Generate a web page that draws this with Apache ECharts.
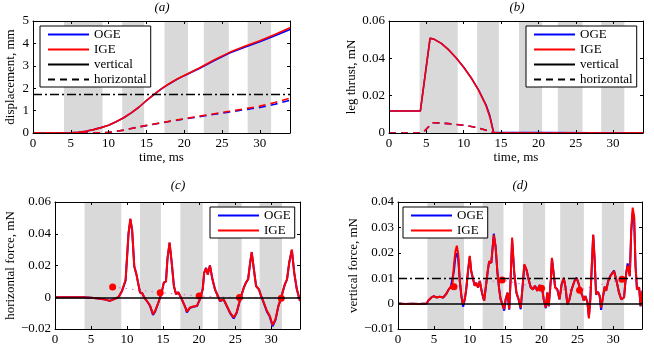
<!DOCTYPE html>
<html>
<head>
<meta charset="utf-8">
<script src="https://cdn.jsdelivr.net/npm/echarts@6/dist/echarts.min.js"></script>
<style>
html, body { margin: 0; padding: 0; background: #fff; }
#charts { width: 654px; height: 346px; }
</style>
</head>
<body>
<div id="charts"></div>
<script>
// stroke (grey) intervals, ms
var strokeBands = [[4.1, 9.2], [11.8, 14.7], [17.4, 20.5], [22.6, 25.9], [28.4, 31.5]];

// (a) displacement, mm
var aVertTime = [0, 4, 5, 6, 7, 8, 9, 10, 11, 12, 13, 14, 15, 16, 17, 18, 19, 20, 22, 24, 26, 28, 30, 32, 34];
var aVertIGE = [0, 0, 0.005, 0.03, 0.08, 0.15, 0.24, 0.35, 0.5, 0.68, 0.9, 1.15, 1.45, 1.72, 1.98, 2.2, 2.4, 2.57, 2.9, 3.27, 3.6, 3.87, 4.12, 4.4, 4.7];
var aVertOGE = [0, 0, 0.005, 0.03, 0.08, 0.15, 0.24, 0.35, 0.5, 0.68, 0.9, 1.15, 1.44, 1.71, 1.97, 2.19, 2.39, 2.56, 2.88, 3.24, 3.57, 3.83, 4.07, 4.34, 4.62];
var aHorTime = [0, 8, 9, 10, 11, 12, 13, 14, 15, 16, 18, 20, 22, 24, 26, 28, 30, 32, 34];
var aHorIGE = [0, 0, 0.01, 0.03, 0.07, 0.13, 0.2, 0.27, 0.34, 0.4, 0.52, 0.64, 0.75, 0.86, 0.97, 1.08, 1.2, 1.36, 1.56];
var aHorOGE = [0, 0, 0.01, 0.03, 0.07, 0.13, 0.2, 0.27, 0.33, 0.39, 0.51, 0.62, 0.73, 0.84, 0.94, 1.04, 1.14, 1.28, 1.46];
var aLevel = 1.73;

// (b) leg thrust, mN
var bVertTime = [0, 4.2, 5.5, 6, 7, 8, 9, 10, 11, 12, 13, 13.5, 14, 34];
var bVertIGE = [0.0118, 0.0118, 0.0508, 0.0503, 0.048, 0.0445, 0.0402, 0.0352, 0.0295, 0.0228, 0.0145, 0.0085, 0, 0];
var bVertOGE = [0.0118, 0.0118, 0.0508, 0.0503, 0.048, 0.0445, 0.0402, 0.0352, 0.0296, 0.023, 0.015, 0.0092, 0.0004, 0];
var bHorTime = [0, 4.5, 5.8, 7, 8, 9, 10, 11, 12, 13, 14, 34];
var bHorIGE = [0, 0, 0.0055, 0.0053, 0.005, 0.0046, 0.0041, 0.0035, 0.0027, 0.0015, 0, 0];
var bHorOGE = [0, 0, 0.0055, 0.0053, 0.005, 0.0046, 0.0041, 0.0035, 0.0027, 0.0015, 0, 0];

// (c) horizontal force, mN
var cTime = [0, 2, 4, 5, 6, 7, 7.6, 8.2, 8.8, 9.3, 9.8, 10.2, 10.46, 10.7, 11.0, 11.3, 11.8, 12.1, 12.4, 12.9,
  13.2, 13.6, 13.9, 14.35, 14.8, 15.1, 15.4, 15.6, 15.9, 16.2, 16.5, 16.8, 17.1, 17.6, 18.1, 18.3, 18.75, 19.2, 19.7, 20.1,
  20.5, 20.7, 20.97, 21.2, 21.5, 21.85, 22.2, 22.6, 22.9, 23.4, 23.8, 24.3, 24.8, 25.2, 25.7, 26.2, 26.5, 26.8, 27.08, 27.3,
  27.6, 27.9, 28.3, 28.6, 28.97, 29.4, 29.8, 30.2, 30.6, 31.0, 31.4, 31.7, 31.9, 32.2, 32.5, 32.87, 33.2, 33.56, 34.0];
var cIGE = [0, 0, 0, -0.0003, -0.0008, -0.0015, -0.0023, -0.0012, 0, 0.004, 0.011, 0.04, 0.0495, 0.0425, 0.0196, 0.0144, 0.003, 0.0025, -0.0002, -0.0033,
  -0.0054, -0.0106, -0.0086, -0.0033, 0.0029, 0.0092, 0.01, 0.0238, 0.0345, 0.0217, 0.0071, 0.0019, 0.0032, -0.0013, -0.0064, -0.009, -0.0064, -0.0058, -0.0054, -0.0013,
  0.005, 0.0154, 0.0185, 0.0144, 0.02, 0.0113, 0.005, 0.0008, -0.0023, -0.0013, -0.005, -0.0096, -0.0127, -0.0096, -0.0013, 0.006, 0.0092, 0.0113, 0.0217, 0.0285,
  0.0175, 0.0071, 0.005, 0.0008, -0.0033, -0.0085, -0.0117, -0.0175, -0.0138, -0.0054, -0.0002, 0.005, 0.0081, 0.0113, 0.0217, 0.03, 0.0154, 0.005, -0.0023];
var cOGE = [0, 0, 0, -0.0003, -0.0008, -0.0015, -0.0023, -0.0012, 0, 0.004, 0.0105, 0.04, 0.049, 0.0425, 0.0196, 0.0144, 0.003, 0.0025, -0.0002, -0.0033,
  -0.0056, -0.0112, -0.009, -0.0033, 0.0029, 0.0092, 0.01, 0.0238, 0.0343, 0.0217, 0.0071, 0.0019, 0.0032, -0.0013, -0.0066, -0.0096, -0.0066, -0.006, -0.0056, -0.0013,
  0.005, 0.0154, 0.0185, 0.0144, 0.02, 0.0113, 0.005, 0.0008, -0.0024, -0.0014, -0.0052, -0.01, -0.0134, -0.01, -0.0013, 0.006, 0.0092, 0.0113, 0.0217, 0.0283,
  0.0175, 0.0071, 0.005, 0.0008, -0.0035, -0.009, -0.0122, -0.0183, -0.0143, -0.0056, -0.0002, 0.005, 0.0081, 0.0113, 0.0217, 0.0298, 0.0154, 0.005, -0.0023];
var cMeanTime = [8, 14.6, 20, 25.6, 31.4];
var cMean = [0.0065, 0.0029, 0.0008, -0.0002, -0.0006];

// (d) vertical force, mN
var dTime = [0, 1, 2, 3, 4, 4.2, 4.65, 5.0, 5.35, 5.8, 6.3, 6.7, 7.07, 7.35, 7.6, 7.8, 8.0, 8.2, 8.4, 8.6,
  8.84, 9.07, 9.3, 9.5, 9.77, 10.0, 10.2, 10.47, 10.7, 10.9, 11.16, 11.4, 11.7, 12.0, 12.2, 12.5, 12.7, 13.0, 13.35, 13.6,
  13.86, 14.1, 14.3, 14.56, 14.8, 15.0, 15.26, 15.5, 15.7, 15.9, 16.2, 16.5, 16.8, 17.1, 17.4, 17.6, 17.9, 18.2, 18.5, 18.8,
  19.1, 19.4, 19.7, 20.05, 20.3, 20.6, 20.8, 21.0, 21.3, 21.45, 21.7, 21.9, 22.2, 22.5, 22.8, 23.1, 23.35, 23.6, 23.9, 24.2,
  24.6, 24.9, 25.2, 25.4, 25.7, 25.9, 26.1, 26.4, 26.6, 26.8, 27.0, 27.2, 27.4, 27.6, 27.86, 28.1, 28.3, 28.5, 28.8, 29.0,
  29.3, 29.6, 30.1, 30.4, 30.8, 31.1, 31.5, 31.8, 32.0, 32.3, 32.5, 32.7, 32.9, 33.1, 33.3, 33.6, 33.8, 34.0];
var dIGE = [0, -0.0002, -0.0001, -0.0002, 0, 0.0011, 0.0024, 0.003, 0.0024, 0.0027, 0.0024, 0.0037, 0.0056, 0.0067, 0.0076, 0.0154, 0.0206, 0.0228, 0.0193, 0.0095,
  0.003, -0.0002, 0.0017, 0.0056, 0.0134, 0.0188, 0.0128, 0.0095, 0.007, 0.0082, 0.0063, 0.0089, 0.0043, 0.0011, 0.0056, 0.0128, 0.0167, 0.016, 0.027, 0.0225,
  0.0121, 0.0056, 0.0017, -0.0002, -0.0022, 0.0017, 0.0043, -0.0022, 0.0102, 0.026, 0.0121, 0.0043, 0.0017, -0.0016, 0.0082, 0.0155, 0.0134, 0.0095, 0.0063, 0.0056,
  0.007, 0.005, 0.0072, 0.0067, 0.0017, -0.0016, 0.0043, -0.0009, 0.0095, 0.018, 0.0115, 0.0063, 0.0056, 0.0017, 0.0076, 0.0102, 0.0063, -0.0002, 0.0017, 0.0056,
  0.0089, 0.01, 0.0076, 0.005, 0.003, 0.0011, 0.003, 0.0004, -0.0058, 0.0017, 0.0147, 0.0272, 0.0173, 0.0037, 0.0046, 0.003, -0.0016, 0.0017, 0.0067, 0.005,
  0.0089, 0.0108, 0.0128, 0.0095, 0.0043, 0.0017, 0.0024, 0.0121, 0.015, 0.0108, 0.0291, 0.0378, 0.0343, 0.0147, 0.0056, 0.0063, -0.0009, 0.005];
var dOGE = [0, -0.0002, -0.0001, -0.0002, 0, 0.0011, 0.0024, 0.003, 0.0024, 0.0027, 0.0024, 0.0037, 0.0056, 0.0065, 0.007, 0.013, 0.0185, 0.0198, 0.0175, 0.009,
  0.0027, -0.0012, 0.0015, 0.0054, 0.013, 0.0185, 0.0128, 0.0095, 0.007, 0.0082, 0.0063, 0.0089, 0.0043, 0.0011, 0.0056, 0.0126, 0.0165, 0.016, 0.0275, 0.0222,
  0.0121, 0.0056, 0.0017, -0.0004, -0.0028, 0.0017, 0.0043, -0.0024, 0.01, 0.025, 0.0121, 0.0043, 0.0017, -0.0022, 0.008, 0.0152, 0.0134, 0.0095, 0.0063, 0.0056,
  0.007, 0.005, 0.0072, 0.0067, 0.0017, -0.0018, 0.0043, -0.0011, 0.0095, 0.0178, 0.0115, 0.0063, 0.0056, 0.0017, 0.0076, 0.01, 0.0063, -0.0004, 0.0017, 0.0056,
  0.009, 0.0102, 0.0076, 0.005, 0.003, 0.0011, 0.003, 0.0004, -0.0052, 0.0017, 0.0145, 0.027, 0.0173, 0.0035, 0.0046, 0.003, -0.0025, 0.0015, 0.0067, 0.005,
  0.009, 0.011, 0.013, 0.0097, 0.0043, 0.0017, 0.0024, 0.0121, 0.0158, 0.0108, 0.0285, 0.036, 0.034, 0.0147, 0.0056, 0.0063, -0.0011, 0.005];
var dMeanTime = [7.8, 14.5, 20.0, 25.3, 31.2];
var dMean = [0.0066, 0.0093, 0.006, 0.0053, 0.0096];
var weightLevel = 0.0118;

var FONT = 'Liberation Serif, DejaVu Serif, serif';
var BLUE = '#0000ff', RED = '#ff0000';

var grids = [
    { left: 33, top: 21, width: 257, height: 112 },
    { left: 389, top: 21, width: 254, height: 112 },
    { left: 55, top: 202, width: 245, height: 128 },
    { left: 398, top: 202, width: 244, height: 128 }
];
var yRanges = [[0, 5, 1], [0, 0.06, 0.02], [-0.02, 0.06, 0.02], [-0.01, 0.04, 0.01]];
var yNames = ['displacement, mm', 'leg thrust, mN', 'horizontal force, mN', 'vertical force, mN'];
var yGaps = [16, 30, 37, 36];

function pairs(t, v) {
    return t.map(function (x, i) { return [x, v[i]]; });
}

function yFmt(v) {
    if (Math.abs(v) < 1e-9) return '0';
    if (Math.abs(v) >= 1) return String(Math.round(v));
    return (v < 0 ? '\u2212' : '') + Math.abs(v).toFixed(2);
}

var xAxis = [], yAxis = [];
grids.forEach(function (g, i) {
    var common = {
        type: 'value', gridIndex: i, z: 5,
        axisLine: { show: true, onZero: false, lineStyle: { color: '#000', width: 1 } },
        axisTick: { show: true, inside: true, length: 3, lineStyle: { color: '#000' } },
        splitLine: { show: false }
    };
    xAxis.push(Object.assign({}, common, {
        position: 'bottom', min: 0, max: 34, interval: 5,
        axisLabel: {
            color: '#000', fontFamily: FONT, fontSize: 13, margin: 4, showMaxLabel: false,
            formatter: function (v) { return v % 5 === 0 ? String(v) : ''; }
        },
        name: i < 2 ? 'time, ms' : '', nameLocation: 'middle', nameGap: 18,
        nameTextStyle: { color: '#000', fontFamily: FONT, fontSize: 13 }
    }));
    xAxis.push(Object.assign({}, common, {
        position: 'top', min: 0, max: 34, interval: 5, axisLabel: { show: false }
    }));
    var r = yRanges[i];
    yAxis.push(Object.assign({}, common, {
        position: 'left', min: r[0], max: r[1], interval: r[2],
        axisLabel: { color: '#000', fontFamily: FONT, fontSize: 13, margin: 4, formatter: yFmt },
        name: yNames[i], nameLocation: 'middle', nameGap: yGaps[i],
        nameTextStyle: { color: '#000', fontFamily: FONT, fontSize: 13 }
    }));
    yAxis.push(Object.assign({}, common, {
        position: 'right', min: r[0], max: r[1], interval: r[2], axisLabel: { show: false }
    }));
});

function line(gi, name, t, v, color, width, type) {
    return {
        type: 'line', name: name, xAxisIndex: 2 * gi, yAxisIndex: 2 * gi,
        data: pairs(t, v), symbol: 'none', silent: true,
        lineStyle: { color: color, width: width, type: type || 'solid' },
        itemStyle: { color: color }
    };
}

function bands(gi) {
    return {
        type: 'line', name: 'bands' + gi, xAxisIndex: 2 * gi, yAxisIndex: 2 * gi, data: [],
        markArea: {
            silent: true, itemStyle: { color: '#d9d9d9' },
            data: strokeBands.map(function (b) { return [{ xAxis: b[0] }, { xAxis: b[1] }]; })
        }
    };
}

function refLine(gi, level, type, width) {
    return {
        type: 'line', name: 'ref' + gi + '_' + level, xAxisIndex: 2 * gi, yAxisIndex: 2 * gi, data: [],
        markLine: {
            silent: true, symbol: 'none', label: { show: false },
            lineStyle: { color: '#000', type: type, width: width },
            data: [{ yAxis: level }]
        }
    };
}

function means(gi, t, v) {
    return {
        type: 'line', name: 'mean' + gi, xAxisIndex: 2 * gi, yAxisIndex: 2 * gi,
        data: pairs(t, v), symbol: 'circle', symbolSize: 7, showSymbol: true, silent: true,
        lineStyle: { color: '#d070c8', width: 1, type: [1.5, 5] },
        itemStyle: { color: RED }
    };
}

function legendOnly(name, color, type) {
    return {
        type: 'line', name: name, xAxisIndex: 0, yAxisIndex: 0, data: [], symbol: 'none',
        lineStyle: { color: color, width: 2, type: type || 'solid' }, itemStyle: { color: color }
    };
}

var DASH = [7, 5], DASHDOT = [9, 3, 2, 3];

var series = [
    legendOnly('OGE', BLUE), legendOnly('IGE', RED),
    legendOnly('vertical', '#000'), legendOnly('horizontal', '#000', DASH),

    bands(0), refLine(0, aLevel, DASHDOT, 1.3),
    line(0, 'a-OGE-v', aVertTime, aVertOGE, BLUE, 1.6),
    line(0, 'a-OGE-h', aHorTime, aHorOGE, BLUE, 1.6, DASH),
    line(0, 'a-IGE-v', aVertTime, aVertIGE, RED, 1.6),
    line(0, 'a-IGE-h', aHorTime, aHorIGE, RED, 1.6, DASH),

    bands(1),
    line(1, 'b-OGE-v', bVertTime, bVertOGE, BLUE, 1.6),
    line(1, 'b-OGE-h', bHorTime, bHorOGE, BLUE, 1.6, DASH),
    line(1, 'b-IGE-v', bVertTime, bVertIGE, RED, 1.6),
    line(1, 'b-IGE-h', bHorTime, bHorIGE, RED, 1.6, DASH),

    bands(2), refLine(2, 0, 'solid', 1.5),
    means(2, cMeanTime, cMean),
    line(2, 'c-OGE', cTime, cOGE, BLUE, 2),
    line(2, 'c-IGE', cTime, cIGE, RED, 2),

    bands(3), refLine(3, 0, 'solid', 1.5), refLine(3, weightLevel, DASHDOT, 1.3),
    means(3, dMeanTime, dMean),
    line(3, 'd-OGE', dTime, dOGE, BLUE, 2),
    line(3, 'd-IGE', dTime, dIGE, RED, 2)
];

function legend(left, top, names) {
    return {
        orient: 'vertical', left: left, top: top, data: names, selectedMode: false,
        itemWidth: 41, itemHeight: 14, itemGap: 2, padding: [2, 4, 1, 7],
        backgroundColor: '#fff', borderColor: '#000', borderWidth: 1, borderRadius: 0,
        itemStyle: { opacity: 0 },
        lineStyle: { width: 2, opacity: 1 },
        textStyle: { color: '#000', fontFamily: FONT, fontSize: 13 }
    };
}

function panelTitle(x, y, text) {
    return {
        type: 'text', x: x, y: y, silent: true,
        style: { text: text, fill: '#000', font: 'italic 13px ' + FONT, textAlign: 'center', textVerticalAlign: 'middle' }
    };
}

var myChart = echarts.init(document.getElementById('charts'), null, { renderer: 'canvas' });
myChart.setOption({
    animation: false,
    backgroundColor: '#fff',
    grid: grids,
    xAxis: xAxis,
    yAxis: yAxis,
    legend: [
        legend(40, 26, ['OGE', 'IGE', 'vertical', 'horizontal']),
        legend(526, 26, ['OGE', 'IGE', 'vertical', 'horizontal']),
        legend(210, 207, ['OGE', 'IGE']),
        legend(403, 207, ['OGE', 'IGE'])
    ],
    graphic: [
        panelTitle(162, 8, '(a)'),
        panelTitle(517, 8, '(b)'),
        panelTitle(178, 186, '(c)'),
        panelTitle(520, 186, '(d)')
    ],
    series: series
});
</script>
</body>
</html>
